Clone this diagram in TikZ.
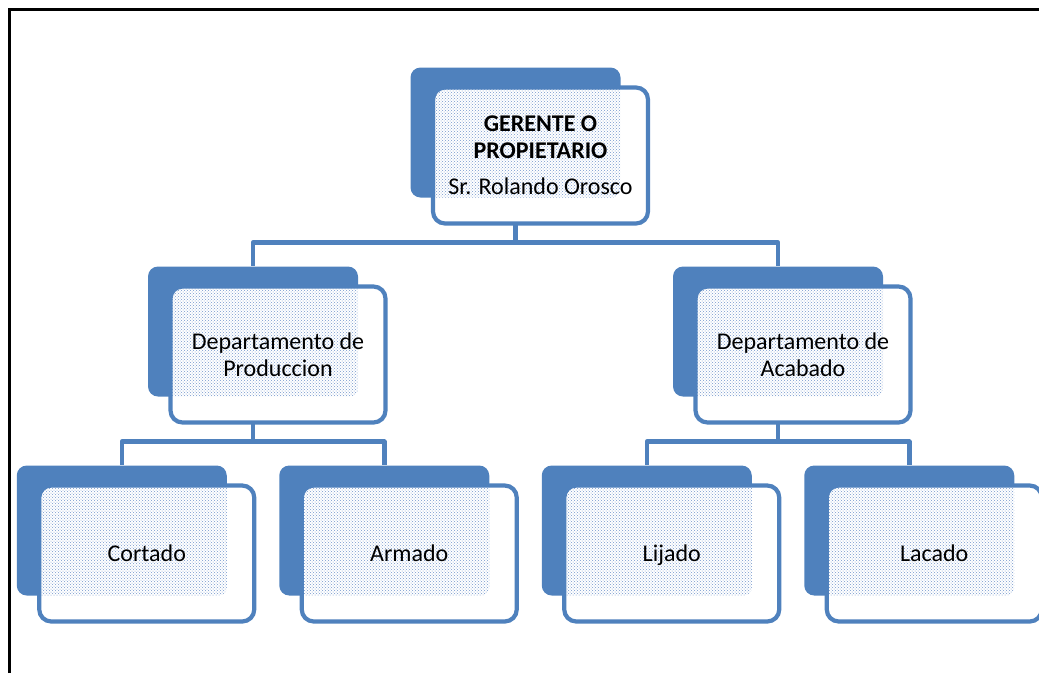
\documentclass[tikz,border=0pt]{standalone}
\usepackage{fontspec}
\setmainfont{Carlito}
\usepackage{xcolor}
\usepackage{tikz}
\usetikzlibrary{patterns}

\definecolor{boxblue}{RGB}{79,129,189}
\definecolor{dotblue}{RGB}{118,152,204}

\tikzset{
    backbox/.style={rectangle, rounded corners=10pt, fill=boxblue, inner sep=0pt,
        minimum width=210pt, minimum height=130pt},
    frontbox/.style={rectangle, rounded corners=12pt, draw=boxblue, line width=4.2pt,
        fill=white, inner sep=0pt, align=center, minimum width=215pt, minimum height=136pt,
        font=\fontsize{24}{27}\selectfont,
        path picture={\fill[pattern=crosshatch dots, pattern color=dotblue, rounded corners=8pt]
            ([shift={(-200pt,200pt)}]path picture bounding box.center) rectangle
            ([shift={(80pt,-42pt)}]path picture bounding box.center);}},
    leafbox/.style={frontbox, text height=16pt, text depth=0pt}
}

\begin{document}
\begin{tikzpicture}[x=1pt, y=1pt, level distance=199pt,
    level 1/.style={sibling distance=525pt},
    level 2/.style={sibling distance=262.5pt},
    edge from parent/.style={draw=boxblue, line width=4.5pt, line join=round},
    edge from parent path={(\tikzparentnode.south) -- ++(0,-45pt) -| (\tikzchildnode.north)}]
    \useasboundingbox (0,0) rectangle (1039,-673);
    \draw[line width=3pt] (9.5,-673) -- (9.5,-9.5) -- (1039,-9.5);

    \node[backbox] (ger) at (515.5,-132.5) {}
        child {node[backbox] (prod) {}
            child {node[backbox] (cort) {}}
            child {node[backbox] (arm) {}}
        }
        child {node[backbox] (acab) {}
            child {node[backbox] (lij) {}}
            child {node[backbox] (lac) {}}
        };

    \node[frontbox] (gerF) at ([shift={(25pt,-23pt)}]ger)
        {\textbf{GERENTE O}\\\textbf{PROPIETARIO}\\[9pt]Sr. Rolando Orosco};
    \node[frontbox] (prodF) at ([shift={(25pt,-23pt)}]prod) {Departamento de\\Produccion};
    \node[frontbox] (acabF) at ([shift={(25pt,-23pt)}]acab) {Departamento de\\Acabado};
    \node[leafbox] (cortF) at ([shift={(25pt,-23pt)}]cort) {Cortado};
    \node[leafbox] (armF) at ([shift={(25pt,-23pt)}]arm) {Armado};
    \node[leafbox] (lijF) at ([shift={(25pt,-23pt)}]lij) {Lijado};
    \node[leafbox] (lacF) at ([shift={(25pt,-23pt)}]lac) {Lacado};
\end{tikzpicture}
\end{document}
